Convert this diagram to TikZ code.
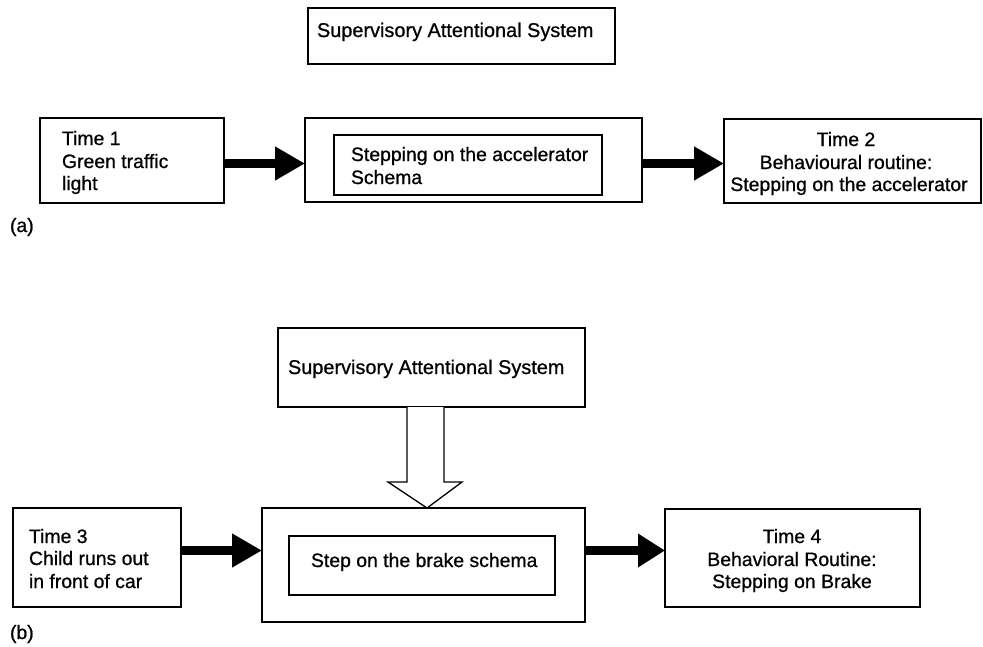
\documentclass[tikz,border=0pt]{standalone}
\usepackage{fontspec}
\setmainfont{Liberation Sans}[UprightFeatures={FakeBold=0.8}]
\usetikzlibrary{arrows.meta}
\tikzset{
  box/.style={draw, line width=1.3pt, inner sep=0pt, outer sep=0pt, rectangle},
  txt/.style={inner sep=0pt, outer sep=0pt, font=\fontsize{19.4}{22.5}\selectfont},
  sastxt/.style={txt, font=\fontsize{19.9}{22.5}\selectfont},
  fat/.style={line width=9pt, -{Triangle[length=30pt,width=32pt]}},
  hollow/.style={draw, line width=1.3pt, fill=white, line join=miter},
}
\begin{document}
\begin{tikzpicture}[x=1pt,y=-1pt]
\useasboundingbox (0,0) rectangle (983,646);
\fill[white] (0,0) rectangle (983,646);

% ---------- (a) ----------
\node[box, minimum width=307pt, minimum height=56pt] (sasA) at (461.5,36) {};
\node[sastxt, anchor=base west] (sasAt) at (317,37) {Supervisory Attentional System};

\node[box, minimum width=184pt, minimum height=85pt] (t1) at (132,160.5) {};
\node[txt, anchor=base west] (t1a) at (62,145) {Time 1};
\node[txt, anchor=base west] (t1b) at (62,168) {Green traffic};
\node[txt, anchor=base west] (t1c) at (62,190) {light};

\node[box, minimum width=337pt, minimum height=84pt] (oA) at (473.5,160) {};
\node[box, minimum width=268pt, minimum height=60pt] (iA) at (468,165) {};
\node[txt, anchor=base west] (iAa) at (351,161) {Stepping on the accelerator};
\node[txt, anchor=base west] (iAb) at (351,184) {Schema};

\node[box, minimum width=257pt, minimum height=84pt] (t2) at (852.5,161) {};
\node[txt, anchor=base] (t2a) at (846,146) {Time 2};
\node[txt, anchor=base] (t2b) at (846,169) {Behavioural routine:};
\node[txt, anchor=base] (t2c) at (849,191) {Stepping on the accelerator};

\draw[fat] (t1.east |- 0,163.5) -- (oA.west |- 0,163.5);
\draw[fat] (oA.east |- 0,163.5) -- (t2.west |- 0,163.5);

\node[txt, anchor=base west] (la) at (10,232) {(a)};

% ---------- (b) ----------
\node[box, minimum width=307pt, minimum height=79pt] (sasB) at (431.5,367.5) {};
\node[sastxt, anchor=base west] (sasBt) at (288,374) {Supervisory Attentional System};

\node[box, minimum width=168pt, minimum height=99pt] (t3) at (97,557.5) {};
\node[txt, anchor=base west] (t3a) at (29,543) {Time 3};
\node[txt, anchor=base west] (t3b) at (29,565) {Child runs out};
\node[txt, anchor=base west] (t3c) at (29,588) {in front of car};

\node[box, minimum width=323pt, minimum height=114pt] (oB) at (423.5,565) {};
\node[box, minimum width=266pt, minimum height=59pt] (iB) at (422,565.5) {};
\node[txt, anchor=base west] (iBt) at (311,567) {Step on the brake schema};

\node[box, minimum width=255pt, minimum height=98pt] (t4) at (792.5,558) {};
\node[txt, anchor=base] (t4a) at (792,543) {Time 4};
\node[txt, anchor=base] (t4b) at (792,566) {Behavioral Routine:};
\node[txt, anchor=base] (t4c) at (792,588) {Stepping on Brake};

\draw[fat] (t3.east |- 0,550.5) -- (oB.west |- 0,550.5);
\draw[fat, -{Triangle[length=27pt,width=32pt]}] (oB.east |- 0,550.5) -- (t4.west |- 0,550.5);

% hollow arrow from SAS to schema box
\draw[hollow] (sasB.south -| 407,0) -- (407,482) -- (388,482) -- (oB.north -| 427,0) -- (462,482) -- (444,482) -- (sasB.south -| 444,0);

\node[txt, anchor=base west] (lb) at (10,639) {(b)};
\end{tikzpicture}
\end{document}
